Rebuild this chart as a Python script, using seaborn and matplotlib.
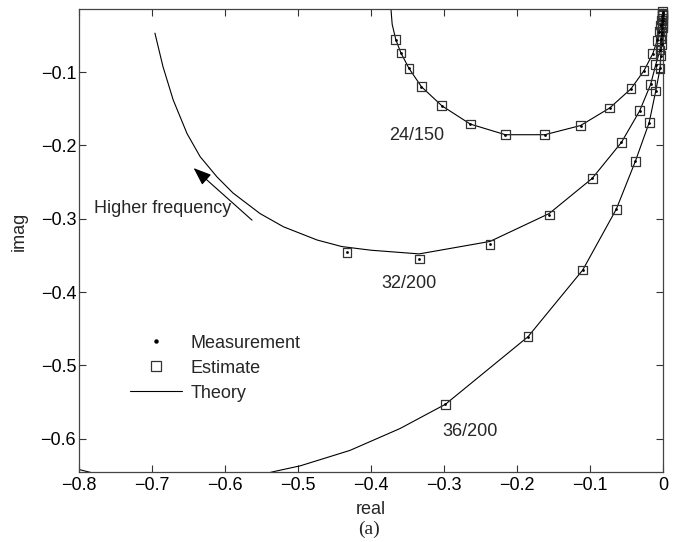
import seaborn as sns
import matplotlib.pyplot as plt
import pandas as pd
from matplotlib.lines import Line2D

# measured points (also the estimates, which sit on top of them)
meas_24_x = [-0.366, -0.359, -0.348, -0.331, -0.303, -0.264, -0.216, -0.162, -0.113,
             -0.073, -0.044, -0.026, -0.014, -0.008, -0.005, -0.003, -0.002, -0.001, -0.0005]
meas_24_y = [-0.056, -0.074, -0.095, -0.120, -0.146, -0.171, -0.1855, -0.1855, -0.173,
             -0.149, -0.123, -0.098, -0.075, -0.057, -0.045, -0.036, -0.029, -0.023, -0.018]

meas_32_x = [-0.433, -0.334, -0.237, -0.156, -0.097, -0.057, -0.032, -0.017, -0.010,
             -0.004, -0.003, -0.002, -0.001, -0.0007, -0.0004]
meas_32_y = [-0.346, -0.355, -0.335, -0.295, -0.245, -0.196, -0.153, -0.117, -0.090,
             -0.070, -0.055, -0.045, -0.035, -0.027, -0.020]

meas_36_x = [-0.298, -0.185, -0.110, -0.064, -0.038, -0.019, -0.010, -0.004, -0.003,
             -0.002, -0.0015, -0.001, -0.0006, -0.0003]
meas_36_y = [-0.553, -0.461, -0.370, -0.287, -0.222, -0.169, -0.126, -0.095, -0.078,
             -0.062, -0.050, -0.040, -0.030, -0.022]

# theory curves
theo_24_x = [-0.373, -0.371] + meas_24_x
theo_24_y = [-0.010, -0.035] + meas_24_y

theo_32_x = [-0.696, -0.685, -0.671, -0.652, -0.634, -0.611, -0.589, -0.552, -0.520, -0.474,
             -0.440, -0.400, -0.334, -0.237, -0.156] + meas_32_x[4:]
theo_32_y = [-0.047, -0.0925, -0.138, -0.184, -0.2155, -0.243, -0.265, -0.293, -0.311, -0.329,
             -0.338, -0.343, -0.348, -0.331, -0.293] + meas_32_y[4:]

theo_36_x = [-0.82, -0.76, -0.68, -0.60, -0.534, -0.497, -0.429, -0.360, -0.330] + meas_36_x
theo_36_y = [-0.637, -0.652, -0.668, -0.662, -0.645, -0.637, -0.616, -0.586, -0.570] + meas_36_y

labels = ['24/150', '32/200', '36/200']
label_x = [-0.338, -0.348, -0.264]
label_y = [-0.186, -0.389, -0.590]

sns.set_style("ticks")
plt.rcParams['font.family'] = ['Liberation Sans', 'DejaVu Sans']

fig = plt.figure(figsize=(6.81, 5.42), dpi=100)
ax = fig.add_axes([0.116, 0.129, 0.8576, 0.8545])

theory = pd.concat([
    pd.DataFrame({'x': theo_24_x, 'y': theo_24_y, 'case': '24/150'}),
    pd.DataFrame({'x': theo_32_x, 'y': theo_32_y, 'case': '32/200'}),
    pd.DataFrame({'x': theo_36_x, 'y': theo_36_y, 'case': '36/200'}),
])
meas = pd.concat([
    pd.DataFrame({'x': meas_24_x, 'y': meas_24_y}),
    pd.DataFrame({'x': meas_32_x, 'y': meas_32_y}),
    pd.DataFrame({'x': meas_36_x, 'y': meas_36_y}),
])

# theory lines
sns.lineplot(data=theory, x='x', y='y', units='case', estimator=None, sort=False,
             color='black', linewidth=0.8, ax=ax, legend=False)

# estimate squares and measurement dots
sns.scatterplot(data=meas, x='x', y='y', marker='s', s=40, facecolor='none',
                edgecolor='#333333', linewidth=0.9, ax=ax, legend=False, clip_on=False, zorder=3)
sns.scatterplot(data=meas, x='x', y='y', marker='o', s=4, color='black',
                linewidth=0, ax=ax, legend=False, clip_on=False, zorder=4)

for lab, lx, ly in zip(labels, label_x, label_y):
    ax.text(lx, ly, lab, fontsize=13, ha='center', va='center')

# arrow
ax.annotate('', xy=(-0.643, -0.231), xytext=(-0.563, -0.302),
            arrowprops=dict(arrowstyle='-|>,head_length=1.1,head_width=0.42',
                            color='black', lw=0.8, shrinkA=0, shrinkB=0))
ax.text(-0.779, -0.286, 'Higher frequency', fontsize=13, ha='left', va='center')

ax.set_xlim(-0.8, 0)
ax.set_ylim(-0.6455, -0.014)
ax.set_xticks([-0.8, -0.7, -0.6, -0.5, -0.4, -0.3, -0.2, -0.1, 0])
ax.set_xticklabels(['\u22120.8', '\u22120.7', '\u22120.6', '\u22120.5', '\u22120.4',
                    '\u22120.3', '\u22120.2', '\u22120.1', '0'])
ax.set_yticks([-0.6, -0.5, -0.4, -0.3, -0.2, -0.1])
ax.tick_params(direction='in', top=True, right=True, length=5, width=0.8,
               labelsize=13, colors='#333333', labelcolor='black')
ax.tick_params(axis='y', pad=2)
for sp in ax.spines.values():
    sp.set_color('#444444')
    sp.set_linewidth(0.9)

ax.set_xlabel('real', fontsize=13, labelpad=5)
ax.set_ylabel('imag', fontsize=13)
ax.yaxis.set_label_coords(-0.087, 0.52)
fig.text(0.542, 0.024, '(a)', fontsize=14, ha='center', va='center',
         family=['Liberation Serif', 'DejaVu Serif'])

handles = [
    Line2D([], [], linestyle='none', marker='o', markersize=2.2, color='black'),
    Line2D([], [], linestyle='none', marker='s', markersize=6.5, markerfacecolor='none',
           markeredgecolor='#333333', markeredgewidth=0.9),
    Line2D([], [], color='black', linewidth=0.8),
]
ax.legend(handles, ['Measurement', 'Estimate', 'Theory'], loc='upper left',
          bbox_to_anchor=(0.087, 0.297), frameon=False, fontsize=13,
          handlelength=2.9, handletextpad=0.45, labelspacing=0.45,
          borderpad=0, borderaxespad=0)

fig.savefig('out.png', dpi=100)
